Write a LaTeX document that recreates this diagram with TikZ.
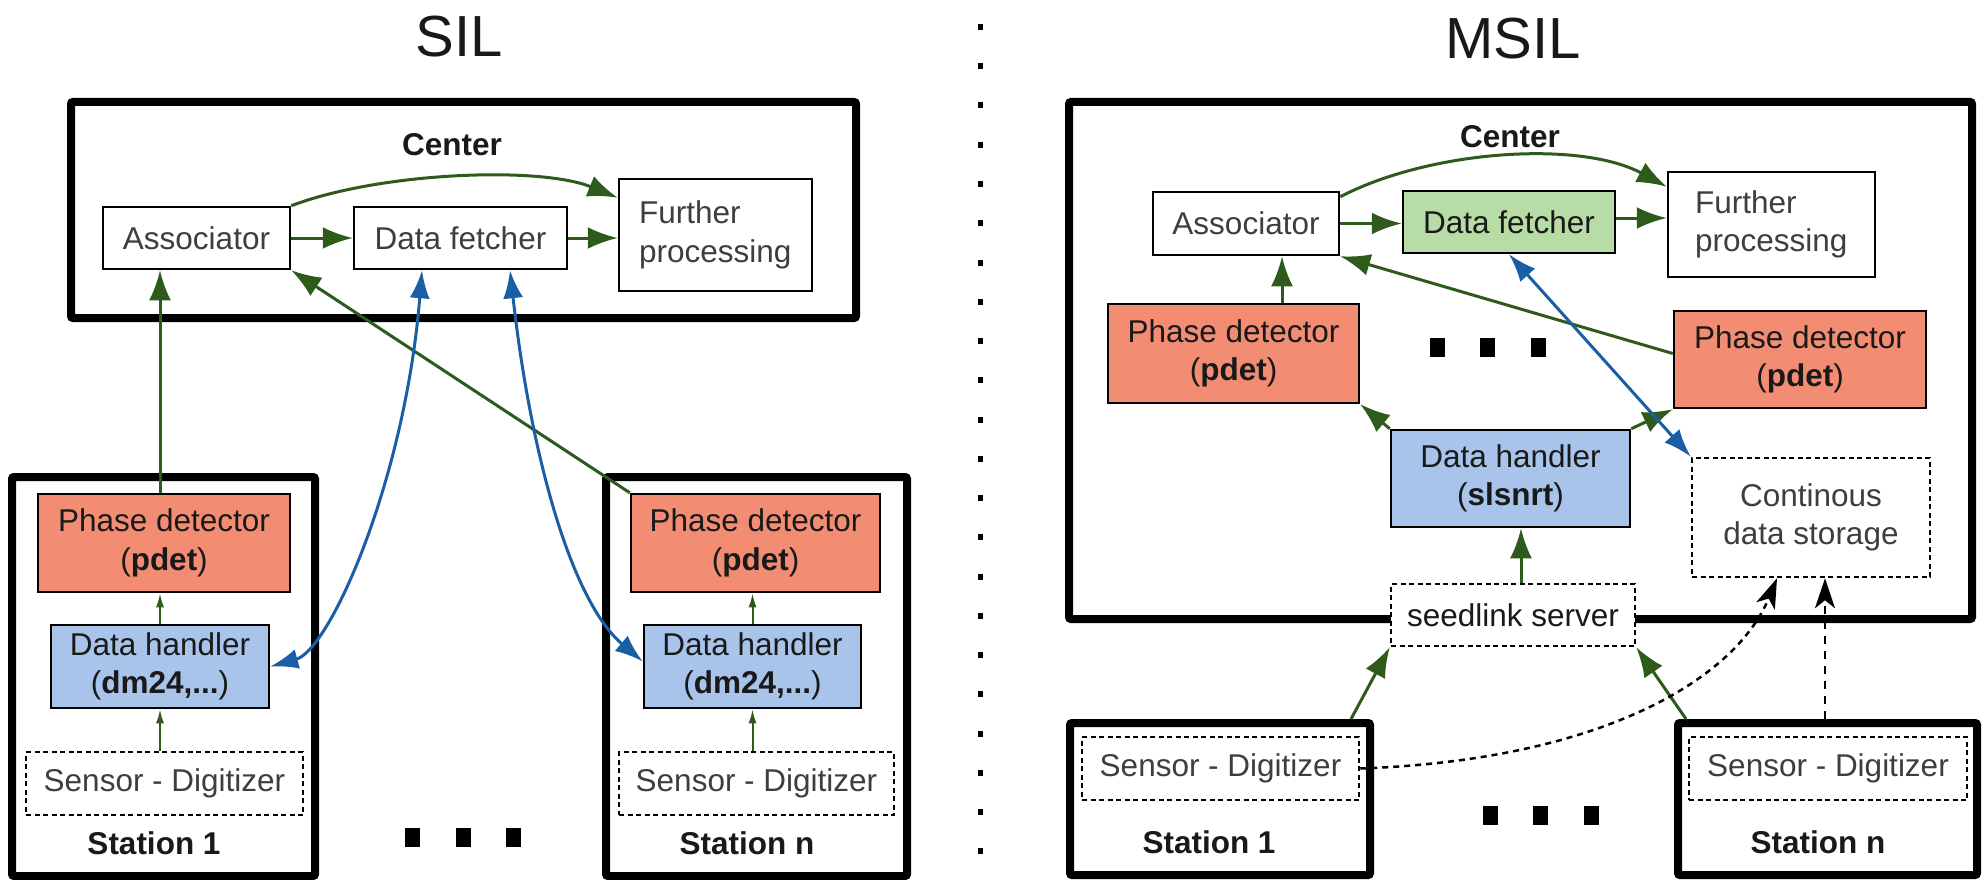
\documentclass[tikz,border=0pt]{standalone}
\usepackage{fontspec}
\setmainfont{Liberation Sans}
\usetikzlibrary{arrows.meta,calc}
\definecolor{salmon}{RGB}{242,141,116}
\definecolor{dhblue}{RGB}{169,196,235}
\definecolor{dfgreen}{RGB}{184,220,165}
\definecolor{gline}{RGB}{46,90,28}
\definecolor{bline}{RGB}{26,95,165}
\definecolor{txtc}{RGB}{25,25,25}
\definecolor{graytxt}{RGB}{62,62,62}
\tikzset{
  txt/.style={font=\fontsize{31.5pt}{38.5pt}\selectfont, text=txtc},
  bold/.style={font=\fontsize{31.5pt}{38.5pt}\selectfont\bfseries, text=txtc},
  title/.style={font=\fontsize{58pt}{60pt}\selectfont, text=txtc},
  box/.style={draw=black, line width=2.5pt, txt, inner sep=0pt, align=center},
  bigbox/.style={draw=black, line width=8pt, rounded corners=2pt, inner sep=0pt},
  dotbox/.style={box, fill=white, dash pattern=on 5pt off 3.5pt},
  garr/.style={draw=gline, line width=3pt, -{Latex[length=30pt,width=22pt]}},
  sarr/.style={draw=gline, line width=2pt, -{Latex[length=14pt,width=8pt]}},
  barr/.style={draw=bline, line width=3pt, {Latex[length=28pt,width=20pt]}-{Latex[length=28pt,width=20pt]}},
  karr/.style={draw=black, line width=2.5pt, -{Stealth[length=30pt,width=20pt,inset=8pt]}},
  sq/.style={fill=black}
}
\begin{document}
\begin{tikzpicture}[x=1pt,y=-1pt]
\useasboundingbox (0,0) rectangle (1988,880);
% separator
\foreach \k in {0,...,21} \fill ($(977.5,24)+(0,39.25*\k)$) rectangle ++(5,6);

% ================= SIL =================
\node[title] (t1) at (459,37) {SIL};
\node[bigbox, minimum width=785pt, minimum height=216pt] (c1) at (463.5,210) {};
\node[bold] (cl1) at (452,145) {Center};
\node[box, fill=white, text=graytxt, minimum width=187pt, minimum height=62pt] (a1) at (196.5,238) {Associator};
\node[box, fill=white, text=graytxt, minimum width=213pt, minimum height=62pt] (d1) at (460.5,238) {Data fetcher};
\node[box, fill=white, text=graytxt, minimum width=193pt, minimum height=112pt, text width=153pt, align=left] (f1) at (715.5,235) {Further\\processing};

\node[bigbox, minimum width=303pt, minimum height=399pt] (s1) at (163.5,676.5) {};
\node[box, fill=salmon, minimum width=252pt, minimum height=98pt] (p1) at (164,543) {Phase detector\\(\textbf{pdet})};
\node[box, fill=dhblue, minimum width=218pt, minimum height=83pt] (h1) at (160,666.5) {Data handler\\(\textbf{dm24,...})};
\node[dotbox, text=graytxt, minimum width=277pt, minimum height=63pt] (sd1) at (164.5,783.5) {Sensor - Digitizer};
\node[bold] (l1) at (154,843) {Station 1};

\node[bigbox, minimum width=301pt, minimum height=399pt] (sn) at (756.5,676.5) {};
\node[box, fill=salmon, minimum width=249pt, minimum height=98pt] (pn) at (755.5,543) {Phase detector\\(\textbf{pdet})};
\node[box, fill=dhblue, minimum width=217pt, minimum height=83pt] (hn) at (752.5,666.5) {Data handler\\(\textbf{dm24,...})};
\node[dotbox, text=graytxt, minimum width=275pt, minimum height=63pt] (sdn) at (756.5,783.5) {Sensor - Digitizer};
\node[bold] (ln) at (747,843) {Station n};

\fill[sq] (404.5,827.5) rectangle ++(15,19);
\fill[sq] (455.5,827.5) rectangle ++(15,19);
\fill[sq] (505.5,827.5) rectangle ++(15,19);

\draw[garr] (a1.east) -- (d1.west);
\draw[garr] (d1.east) -- (d1.east -| f1.west);
\draw[garr] (a1.north east) .. controls (380,172) and (540,166) .. ([yshift=-20pt]f1.north west);
\draw[garr] ([xshift=-4pt]p1.north) -- ([xshift=-4pt]p1.north |- a1.south);
\draw[garr] (pn.north west) -- (a1.south east);
\draw[sarr] (h1.north) -- (h1.north |- p1.south);
\draw[sarr] (h1.south |- sd1.north) -- (h1.south);
\draw[sarr] (hn.north) -- (hn.north |- pn.south);
\draw[sarr] (hn.south |- sdn.north) -- (hn.south);
\draw[barr] ([xshift=-38.5pt]d1.south) .. controls (405,480) and (330,650) .. (h1.east);
\draw[barr] ([xshift=49.5pt]d1.south) .. controls (530,450) and (570,600) .. ([yshift=5pt]hn.west);

% ================= MSIL =================
\node[title] (t2) at (1513,39) {MSIL};
\node[bigbox, minimum width=903pt, minimum height=517pt] (c2) at (1520.5,360.5) {};
\node[bold] (cl2) at (1510,137) {Center};
\node[box, fill=white, text=graytxt, minimum width=186pt, minimum height=63pt] (a2) at (1246,223.5) {Associator};
\node[box, fill=dfgreen, minimum width=212pt, minimum height=62pt] (d2) at (1509,222) {Data fetcher};
\node[box, fill=white, text=graytxt, minimum width=207pt, minimum height=105pt, text width=153pt, align=left] (f2) at (1771.5,224.5) {Further\\processing};
\node[box, fill=salmon, minimum width=251pt, minimum height=99pt] (pa) at (1233.5,353.5) {Phase detector\\(\textbf{pdet})};
\node[box, fill=salmon, minimum width=252pt, minimum height=97pt] (pb) at (1800,359.5) {Phase detector\\(\textbf{pdet})};
\node[box, fill=dhblue, minimum width=239pt, minimum height=97pt] (h2) at (1510.5,478.5) {Data handler\\(\textbf{slsnrt})};
\node[dotbox, text=graytxt, minimum width=238pt, minimum height=119pt] (cds) at (1811,517.5) {Continous\\data storage};
\node[dotbox, minimum width=244pt, minimum height=62pt] (seed) at (1513,615) {seedlink server};

\node[bigbox, minimum width=300pt, minimum height=152pt] (st1) at (1220,799) {};
\node[dotbox, text=graytxt, minimum width=277pt, minimum height=63pt] (sd2a) at (1220.5,768.5) {Sensor - Digitizer};
\node[bold] (l2a) at (1209,842) {Station 1};
\node[bigbox, minimum width=299pt, minimum height=152pt] (st2) at (1827.5,799) {};
\node[dotbox, text=graytxt, minimum width=278pt, minimum height=63pt] (sd2b) at (1828,768.5) {Sensor - Digitizer};
\node[bold] (l2b) at (1818,842) {Station n};

\fill[sq] (1429.5,337.5) rectangle ++(15,19);
\fill[sq] (1479.5,337.5) rectangle ++(15,19);
\fill[sq] (1530.5,337.5) rectangle ++(15,19);
\fill[sq] (1482.5,805.5) rectangle ++(15,19);
\fill[sq] (1532.5,805.5) rectangle ++(15,19);
\fill[sq] (1583.5,805.5) rectangle ++(15,19);

\draw[garr] (a2.east) -- (a2.east -| d2.west);
\draw[garr] ([yshift=4pt]d2.east) -- ([yshift=4pt]d2.east -| f2.west);
\draw[garr] ([yshift=-6pt]a2.north east) .. controls (1430,150) and (1580,140) .. ([yshift=-16pt]f2.north west);
\draw[garr] ([xshift=36pt]a2.south |- pa.north) -- ([xshift=36pt]a2.south);
\draw[garr] ([yshift=6pt]pb.west) -- (a2.south east);
\draw[garr] (h2.north west) -- (pa.south east);
\draw[garr] (h2.north east) -- (pb.south west);
\draw[barr] (d2.south) -- (cds.north west);
\draw[garr] ([xshift=8pt]seed.north) -- ([xshift=8pt]seed.north |- h2.south);
\draw[garr] ([xshift=-23pt]st1.north east) -- (seed.south west);
\draw[garr] ([xshift=12pt]st2.north west) -- (seed.south east);
\draw[karr, dash pattern=on 6pt off 5pt] (sd2a.east) .. controls (1600,760) and (1735,680) .. ([xshift=-34pt]cds.south);
\draw[karr, dash pattern=on 8pt off 7pt] ([xshift=14pt]cds.south |- st2.north) -- ([xshift=14pt]cds.south);
\end{tikzpicture}
\end{document}
